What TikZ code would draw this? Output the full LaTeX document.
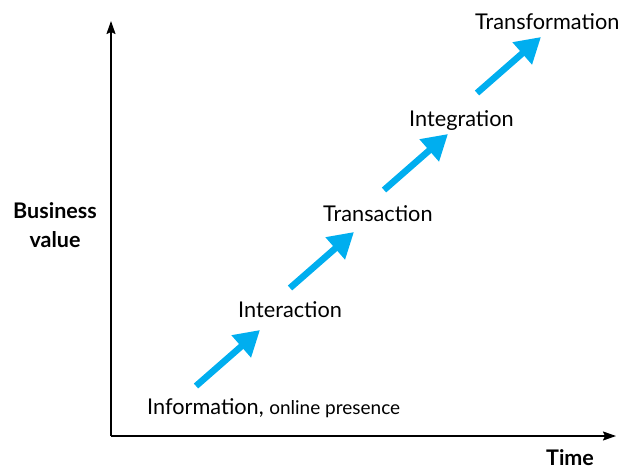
\documentclass[tikz,border=0pt]{standalone}
\usepackage{fontspec}
\setmainfont{Lato}
\usetikzlibrary{arrows.meta}

\definecolor{stepblue}{RGB}{0,174,239}

\begin{document}
\begin{tikzpicture}[x=1pt,y=-1pt,
  axis/.style = {line width=1.6pt, -{Stealth[length=13pt,width=9pt,inset=2pt]}},
  stage/.style = {anchor=base west, inner sep=0pt, font=\fontsize{21.7}{26}\selectfont},
  growth/.style = {stepblue, line width=6.5pt, -{Triangle[length=25pt,width=28pt]}}]

\useasboundingbox (0,0) rectangle (622,471);

% axes
\coordinate (origin) at (111,436);
\coordinate (ytop) at (111,21);
\coordinate (xend) at (616,436);
\draw[axis] (origin) -- (ytop);
\draw[axis] (origin) -- (xend);

\node[font=\bfseries\fontsize{21.5}{29}\selectfont, align=center] (value) at (55,225) {Business\\value};
\node[font=\bfseries\fontsize{21.5}{24}\selectfont, anchor=base west, inner sep=0pt] (time) at (546,465) {Time};

% stages
\node[stage] (info) at (147,414) {Information, {\fontsize{19}{22}\selectfont online presence}};
\node[stage] (inter) at (238,317) {Interaction};
\node[stage] (trans) at (323,221) {Transaction};
\node[stage] (integ) at (409,126) {Integration};
\node[stage] (transf) at (475,30) {Transformation};

% arrows between the stages
\foreach \i/\x/\y in {1/196/386, 2/290/288, 3/384/190, 4/477/93} {
  \coordinate (tail\i) at (\x,\y);
  \coordinate (tip\i) at (\x+64,\y-56);
  \draw[growth] (tail\i) -- (tip\i);
}

\end{tikzpicture}
\end{document}
